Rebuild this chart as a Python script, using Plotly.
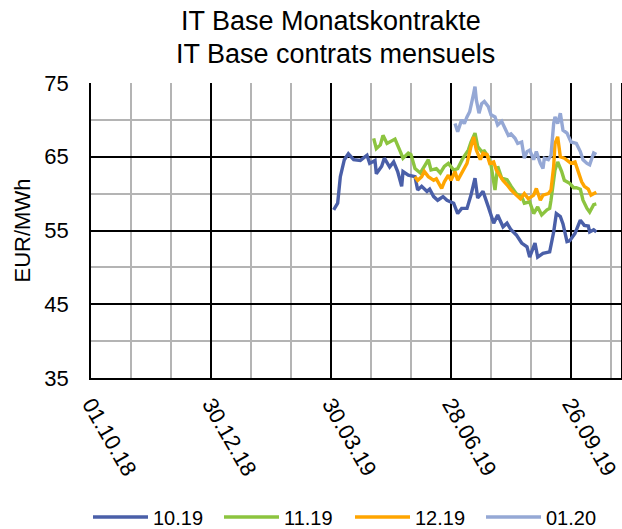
import plotly.graph_objects as go

series_names = ["10.19", "11.19", "12.19", "01.20"]
series_colors = ["#4a5fa8", "#8cc43f", "#ffa500", "#95a8d5"]

dates_1019 = ["2019-04-01", "2019-04-04", "2019-04-06", "2019-04-09", "2019-04-12", "2019-04-16",
              "2019-04-21", "2019-04-26", "2019-04-28", "2019-05-02", "2019-05-03", "2019-05-07",
              "2019-05-09", "2019-05-13", "2019-05-16", "2019-05-19", "2019-05-22", "2019-05-23",
              "2019-05-27", "2019-06-01", "2019-06-03", "2019-06-06", "2019-06-10", "2019-06-12",
              "2019-06-15", "2019-06-18", "2019-06-22", "2019-06-25", "2019-06-30", "2019-07-03",
              "2019-07-06", "2019-07-10", "2019-07-13", "2019-07-16", "2019-07-18", "2019-07-22",
              "2019-07-26", "2019-07-30", "2019-08-02", "2019-08-06", "2019-08-09", "2019-08-12",
              "2019-08-16", "2019-08-20", "2019-08-24", "2019-08-26", "2019-08-30", "2019-09-01",
              "2019-09-05", "2019-09-10", "2019-09-13", "2019-09-15", "2019-09-18", "2019-09-20",
              "2019-09-23", "2019-09-25", "2019-09-29", "2019-10-03", "2019-10-06", "2019-10-09",
              "2019-10-10", "2019-10-13", "2019-10-15"]
values_1019 = [57.8, 58.7, 62.3, 64.6, 65.4, 64.6,
               64.5, 65.2, 64.1, 64.5, 62.7, 63.7,
               64.8, 63.6, 64.3, 63.0, 61.0, 63.0,
               62.5, 62.3, 60.5, 61.0, 60.3, 60.6,
               59.6, 59.1, 59.6, 59.1, 58.7, 57.3,
               58.0, 58.0, 59.8, 62.1, 59.4, 60.3,
               58.2, 56.0, 57.1, 55.5, 56.0, 55.1,
               54.4, 53.3, 52.8, 51.4, 53.3, 51.4,
               51.9, 52.1, 54.8, 57.3, 56.9, 55.9,
               53.5, 53.6, 54.6, 56.4, 55.7, 55.6,
               54.8, 55.1, 54.8]

dates_1119 = ["2019-05-01", "2019-05-03", "2019-05-06", "2019-05-08", "2019-05-11", "2019-05-13",
              "2019-05-17", "2019-05-21", "2019-05-23", "2019-05-27", "2019-05-29", "2019-06-01",
              "2019-06-05", "2019-06-08", "2019-06-11", "2019-06-13", "2019-06-17", "2019-06-20",
              "2019-06-23", "2019-06-26", "2019-06-30", "2019-07-03", "2019-07-07", "2019-07-11",
              "2019-07-13", "2019-07-16", "2019-07-18", "2019-07-21", "2019-07-23", "2019-07-26",
              "2019-07-28", "2019-07-31", "2019-08-02", "2019-08-05", "2019-08-09", "2019-08-12",
              "2019-08-16", "2019-08-20", "2019-08-22", "2019-08-26", "2019-08-29", "2019-09-01",
              "2019-09-04", "2019-09-08", "2019-09-10", "2019-09-11", "2019-09-14", "2019-09-16",
              "2019-09-19", "2019-09-21", "2019-09-25", "2019-09-28", "2019-09-30", "2019-10-03",
              "2019-10-05", "2019-10-08", "2019-10-10", "2019-10-13", "2019-10-15"]
values_1119 = [67.5, 66.1, 66.6, 67.9, 66.8, 67.0,
               67.4, 65.7, 64.8, 65.5, 65.3, 63.4,
               62.8, 63.7, 64.6, 63.2, 63.4, 62.8,
               63.7, 64.1, 63.2, 63.4, 64.8, 65.9,
               67.0, 68.2, 66.4, 65.7, 65.8, 65.0,
               63.9, 60.5, 63.7, 62.1, 61.9, 61.0,
               60.0, 59.6, 58.7, 58.9, 57.3, 58.2,
               57.1, 57.8, 58.0, 59.1, 63.2, 64.3,
               63.0, 61.8, 61.4, 60.8, 60.8, 60.6,
               59.1, 58.0, 57.5, 58.5, 58.6]

dates_1219 = ["2019-06-01", "2019-06-03", "2019-06-06", "2019-06-08", "2019-06-11", "2019-06-15",
              "2019-06-17", "2019-06-21", "2019-06-23", "2019-06-26", "2019-06-28", "2019-07-01",
              "2019-07-03", "2019-07-06", "2019-07-10", "2019-07-13", "2019-07-15", "2019-07-17",
              "2019-07-20", "2019-07-22", "2019-07-25", "2019-07-27", "2019-07-30", "2019-08-01",
              "2019-08-04", "2019-08-06", "2019-08-09", "2019-08-12", "2019-08-16", "2019-08-19",
              "2019-08-22", "2019-08-25", "2019-08-29", "2019-08-31", "2019-09-03", "2019-09-05",
              "2019-09-09", "2019-09-11", "2019-09-13", "2019-09-14", "2019-09-16", "2019-09-18",
              "2019-09-21", "2019-09-24", "2019-09-26", "2019-09-29", "2019-10-01", "2019-10-04",
              "2019-10-06", "2019-10-09", "2019-10-11", "2019-10-14", "2019-10-15"]
values_1219 = [62.3, 61.8, 62.3, 63.0, 62.3, 61.8,
               62.0, 60.7, 61.6, 62.5, 61.8, 63.0,
               61.8, 62.7, 64.1, 66.4, 67.7, 65.9,
               64.6, 65.5, 65.3, 64.1, 64.3, 63.2,
               62.3, 61.8, 61.2, 60.5, 59.8, 59.3,
               60.0, 59.3, 59.8, 60.7, 59.1, 59.8,
               60.0, 60.5, 63.7, 66.8, 67.7, 65.0,
               64.8, 64.3, 64.1, 64.3, 63.2, 61.6,
               61.0, 60.6, 59.8, 60.2, 60.2]

dates_0120 = ["2019-07-01", "2019-07-03", "2019-07-06", "2019-07-08", "2019-07-10", "2019-07-12",
              "2019-07-15", "2019-07-16", "2019-07-17", "2019-07-19", "2019-07-21", "2019-07-23",
              "2019-07-26", "2019-07-28", "2019-07-31", "2019-08-02", "2019-08-05", "2019-08-07",
              "2019-08-10", "2019-08-12", "2019-08-15", "2019-08-17", "2019-08-20", "2019-08-22",
              "2019-08-24", "2019-08-26", "2019-08-29", "2019-08-31", "2019-09-03", "2019-09-05",
              "2019-09-06", "2019-09-09", "2019-09-11", "2019-09-13", "2019-09-14", "2019-09-16",
              "2019-09-18", "2019-09-20", "2019-09-23", "2019-09-26", "2019-09-30", "2019-10-03",
              "2019-10-05", "2019-10-08", "2019-10-10", "2019-10-13", "2019-10-15"]
values_0120 = [69.5, 68.4, 70.0, 69.5, 70.4, 71.1,
               73.6, 74.5, 72.7, 70.9, 72.2, 72.5,
               71.8, 70.7, 70.4, 69.3, 69.8, 69.1,
               67.9, 68.1, 67.5, 66.8, 67.0, 64.8,
               65.7, 65.9, 64.6, 65.7, 64.1, 63.4,
               64.8, 64.6, 65.2, 69.5, 70.4, 69.5,
               70.9, 68.6, 68.2, 67.0, 66.8, 65.7,
               64.6, 64.1, 63.9, 65.5, 65.3]

all_dates = [dates_1019, dates_1119, dates_1219, dates_0120]
all_values = [values_1019, values_1119, values_1219, values_0120]

title_line1 = "IT Base Monatskontrakte"
title_line2 = "IT Base contrats mensuels"
y_title = "EUR/MWh"

x_start = "2018-10-01"
x_end = "2019-11-02 12:00"
y_min, y_max = 35, 75

DAY_MS = 86400000
FONT = "Liberation Sans, Arial, sans-serif"

W, H = 622, 529
M_L, M_R, M_T, M_B = 91, 1, 83, 151
PLOT_W = W - M_L - M_R
PLOT_H = H - M_T - M_B


def px_to_paper_x(px):
    return (px - M_L) / PLOT_W


def px_to_paper_y(py):
    return (H - M_B - py) / PLOT_H


fig = go.Figure()
for name, color, xs, ys in zip(series_names, series_colors, all_dates, all_values):
    fig.add_trace(go.Scatter(x=xs, y=ys, mode="lines", name=name,
                             line=dict(color=color, width=3.4)))

fig.update_layout(
    width=W, height=H,
    margin=dict(l=M_L, r=M_R, t=M_T, b=M_B, autoexpand=False),
    paper_bgcolor="white", plot_bgcolor="white",
    font=dict(family=FONT, size=21, color="#000000"),
    showlegend=True,
    legend=dict(orientation="h", xref="paper", yref="paper",
                x=px_to_paper_x(88), y=px_to_paper_y(517), xanchor="left", yanchor="middle",
                entrywidth=61, entrywidthmode="pixels", itemwidth=55,
                font=dict(size=20), bgcolor="rgba(0,0,0,0)"),
    annotations=[
        dict(text=title_line1, xref="paper", yref="paper", x=px_to_paper_x(331), y=px_to_paper_y(21),
             xanchor="center", yanchor="middle", showarrow=False, font=dict(size=27)),
        dict(text=title_line2, xref="paper", yref="paper", x=px_to_paper_x(335), y=px_to_paper_y(54),
             xanchor="center", yanchor="middle", showarrow=False, font=dict(size=27)),
    ],
)

fig.update_xaxes(
    type="date", range=[x_start, x_end], automargin=False,
    tick0=x_start, dtick=90 * DAY_MS, tickformat="%d.%m.%y", tickangle=60,
    tickfont=dict(size=22),
    showgrid=True, gridcolor="#000000", gridwidth=1.6,
    minor=dict(tick0=x_start, dtick=30 * DAY_MS, showgrid=True, gridcolor="#b4b4b4", gridwidth=1.6),
    showline=True, linecolor="#000000", linewidth=1.6, mirror=False,
    zeroline=False, ticks="", ticklabelstandoff=3,
)
fig.update_yaxes(
    range=[y_min, y_max], tick0=35, dtick=10, automargin=False,
    tickfont=dict(size=22),
    showgrid=True, gridcolor="#000000", gridwidth=1.6,
    minor=dict(tick0=35, dtick=5, showgrid=True, gridcolor="#b4b4b4", gridwidth=1.6),
    showline=True, linecolor="#000000", linewidth=1.6, mirror=True,
    zeroline=False, ticks="", ticklabelstandoff=16,
    title=dict(text=y_title, font=dict(size=22), standoff=8),
)

fig.write_html("out.html", config={"displayModeBar": False},
               post_script="document.body.style.margin='0px';")
